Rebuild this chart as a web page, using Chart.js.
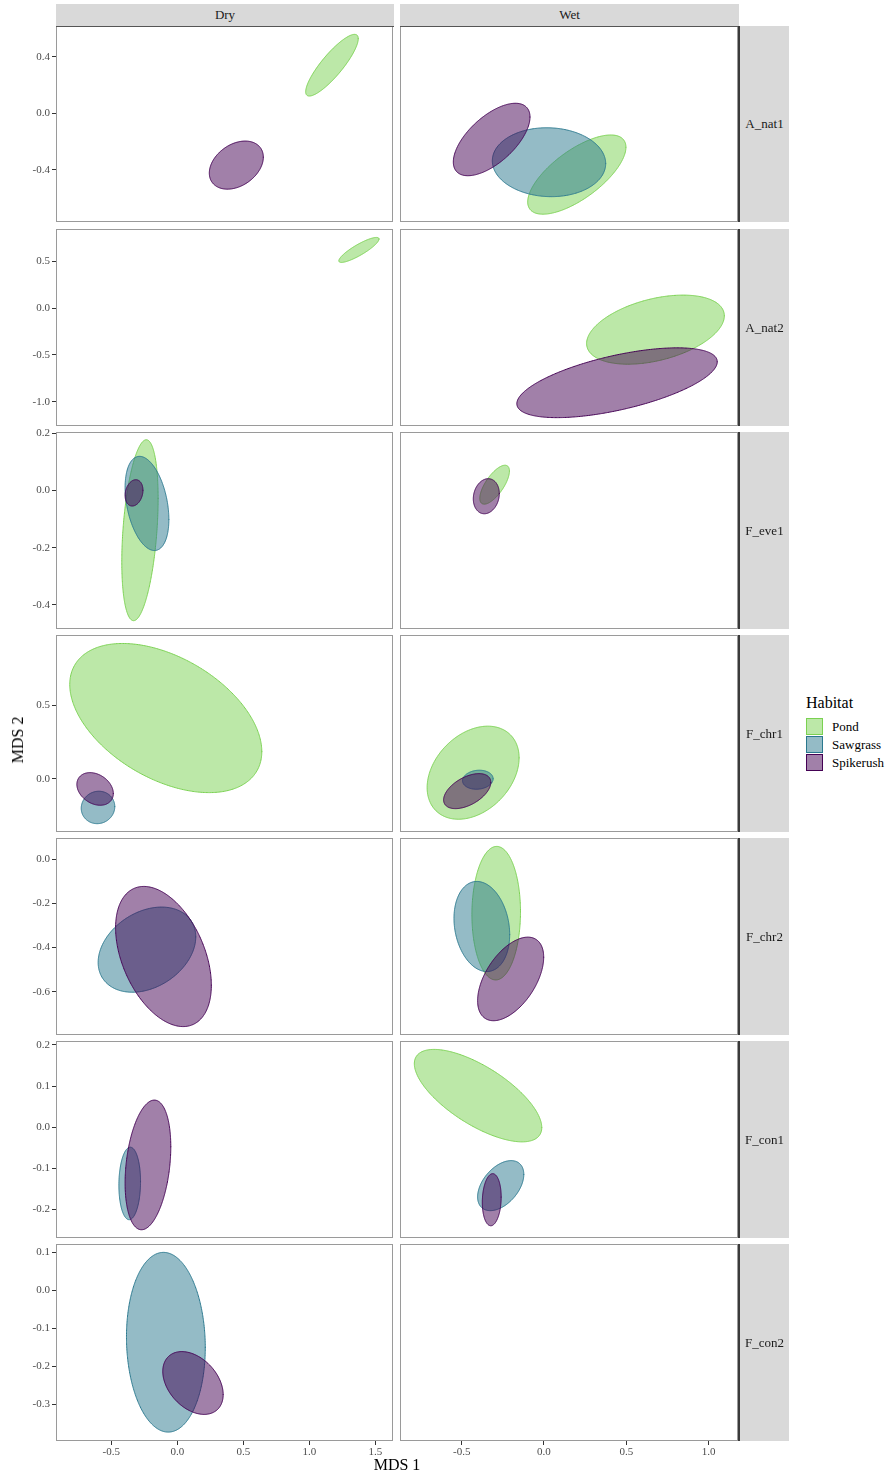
<!DOCTYPE html>
<html>
<head>
<meta charset="utf-8">
<title>Habitat ellipses by species and season</title>
<script src="https://cdn.jsdelivr.net/npm/chart.js@4/dist/chart.umd.min.js"></script>
<style>
  html, body { margin: 0; padding: 0; background: #ffffff; }
  body { position: relative; width: 890px; height: 1477px; overflow: hidden;
         font-family: 'Liberation Serif', 'Times New Roman', serif; }
  .box { position: absolute; }
  .stripTop { position: absolute; background: #d9d9d9; color: #1a1a1a; font-size: 13px;
              text-align: center; box-sizing: border-box; border-bottom: 1px solid #555555;
              display: flex; align-items: center; justify-content: center; z-index: 5; }
  .stripRight { position: absolute; background: #d9d9d9; color: #1a1a1a; font-size: 13px;
                box-sizing: border-box; border-left: 2px solid #3a3a3a;
                display: flex; align-items: center; justify-content: center; z-index: 5; }
  .axisTitle { position: absolute; color: #000000; font-size: 16px; white-space: nowrap; z-index: 5; }
  .legendTitle { position: absolute; font-size: 16px; color: #000000; z-index: 5; }
  .legendKey { position: absolute; width: 17px; height: 17px; box-sizing: border-box; z-index: 5; }
  .legendLabel { position: absolute; font-size: 13px; color: #000000; line-height: 17px; z-index: 5; }
</style>
</head>
<body>
<script>
// ---- categories ----
const seasons = ['Dry', 'Wet'];
const species = ['A_nat1', 'A_nat2', 'F_eve1', 'F_chr1', 'F_chr2', 'F_con1', 'F_con2'];
const habitats = ['Pond', 'Sawgrass', 'Spikerush'];

// ---- scale ranges and tick labels (MDS units) ----
const xRangeDry = [-0.918, 1.633];
const xRangeWet = [-0.875, 1.179];
const xTicksDry = [-0.5, 0.0, 0.5, 1.0, 1.5];
const xTicksWet = [-0.5, 0.0, 0.5, 1.0];
const yRangeBySpecies = [
  [-0.768, 0.617],
  [-1.26, 0.844],
  [-0.484, 0.204],
  [-0.36, 0.976],
  [-0.796, 0.095],
  [-0.269, 0.2095],
  [-0.397, 0.1216]
];
const yTicksBySpecies = [
  [-0.4, 0.0, 0.4],
  [-1.0, -0.5, 0.0, 0.5],
  [-0.4, -0.2, 0.0, 0.2],
  [0.0, 0.5],
  [-0.6, -0.4, -0.2, 0.0],
  [-0.2, -0.1, 0.0, 0.1, 0.2],
  [-0.3, -0.2, -0.1, 0.0, 0.1]
];

// ---- ellipse series: [species, season, centre MDS1, centre MDS2, half-range MDS1, half-range MDS2, correlation] ----
const pond = [
  ['A_nat1', 'Dry', 1.171, 0.340, 0.199, 0.218, 0.86],
  ['A_nat1', 'Wet', 0.1995, -0.433, 0.2985, 0.280, 0.69],
  ['A_nat2', 'Dry', 1.375, 0.6205, 0.152, 0.1335, 0.87],
  ['A_nat2', 'Wet', 0.6775, -0.231, 0.4185, 0.369, 0.40],
  ['F_eve1', 'Dry', -0.2825, -0.139, 0.1375, 0.316, 0.35],
  ['F_eve1', 'Wet', -0.300, 0.020, 0.090, 0.068, 0.70],
  ['F_chr1', 'Dry', -0.087, 0.4128, 0.727, 0.5058, -0.45],
  ['F_chr1', 'Wet', -0.4307, 0.0421, 0.2795, 0.3157, 0.32],
  ['F_chr2', 'Wet', -0.2904, -0.245, 0.1476, 0.302, 0.02],
  ['F_con1', 'Wet', -0.4007, 0.0768, 0.3873, 0.1123, -0.69]
];
const sawgrass = [
  ['A_nat1', 'Wet', 0.0305, -0.3455, 0.3445, 0.2435, -0.04],
  ['F_eve1', 'Dry', -0.2293, -0.0455, 0.1657, 0.1645, -0.34],
  ['F_chr1', 'Dry', -0.600, -0.1935, 0.127, 0.110, 0.05],
  ['F_chr1', 'Wet', -0.402, -0.0055, 0.093, 0.0645, 0.10],
  ['F_chr2', 'Dry', -0.2295, -0.410, 0.3695, 0.1926, 0.30],
  ['F_chr2', 'Wet', -0.3777, -0.3053, 0.1693, 0.2038, -0.18],
  ['F_con1', 'Dry', -0.360, -0.1365, 0.082, 0.0881, 0.05],
  ['F_con1', 'Wet', -0.263, -0.1418, 0.1404, 0.0608, 0.45],
  ['F_con2', 'Dry', -0.0863, -0.137, 0.2983, 0.2366, -0.06]
];
const spikerush = [
  ['A_nat1', 'Dry', 0.447, -0.366, 0.2045, 0.170, 0.33],
  ['A_nat1', 'Wet', -0.318, -0.185, 0.233, 0.256, 0.62],
  ['A_nat2', 'Wet', 0.444, -0.798, 0.609, 0.3728, 0.60],
  ['F_eve1', 'Dry', -0.3274, -0.0086, 0.0677, 0.046, 0.20],
  ['F_eve1', 'Wet', -0.3506, -0.0203, 0.079, 0.0613, 0.15],
  ['F_chr1', 'Dry', -0.622, -0.068, 0.138, 0.1107, -0.28],
  ['F_chr1', 'Wet', -0.4665, -0.0828, 0.1435, 0.1188, 0.50],
  ['F_chr2', 'Dry', -0.1045, -0.441, 0.3625, 0.317, -0.41],
  ['F_chr2', 'Wet', -0.2026, -0.5424, 0.2008, 0.189, 0.52],
  ['F_con1', 'Dry', -0.222, -0.0915, 0.173, 0.1575, 0.28],
  ['F_con1', 'Wet', -0.3175, -0.176, 0.0574, 0.0633, 0.10],
  ['F_con2', 'Dry', 0.1189, -0.2443, 0.2287, 0.0827, -0.37]
];
const habitatSeries = [pond, sawgrass, spikerush];

// ---- styling ----
const habitatLine = ['#7AD151', '#2A788E', '#440154'];
const habitatFill = ['rgba(122,209,81,0.5)', 'rgba(42,120,142,0.5)', 'rgba(68,1,84,0.5)'];
const serif = "'Liberation Serif', 'Times New Roman', serif";

// ---- facet layout (page pixels) ----
const panelCols = [{ l: 56, r: 393 }, { l: 400, r: 738 }];
const panelRows = [[26, 222], [229, 426], [432, 629], [635, 832], [838, 1035], [1041, 1238], [1244, 1441]];
const Y_AXIS_W = 56, X_AXIS_H = 22, PAD = 10;

// closed outline of a bivariate-normal style ellipse
function ellipseOutline(cx, cy, sx, sy, r) {
  const phase = Math.acos(r);
  const pts = [];
  const n = 120;
  for (let i = 0; i <= n; i++) {
    const t = (i / n) * 2 * Math.PI;
    pts.push({ x: cx + sx * Math.cos(t), y: cy + sy * Math.cos(t + phase) });
  }
  return pts;
}

// grey border round each panel
const panelFrame = {
  id: 'panelFrame',
  afterDraw(chart) {
    const a = chart.chartArea, ctx = chart.ctx;
    ctx.save();
    ctx.strokeStyle = '#9a9a9a';
    ctx.lineWidth = 1;
    ctx.strokeRect(a.left + 0.5, a.top + 0.5, a.right - a.left - 1, a.bottom - a.top - 1);
    ctx.restore();
  }
};

function el(cls, left, top, width, height, text) {
  const d = document.createElement('div');
  d.className = cls;
  d.style.left = left + 'px';
  d.style.top = top + 'px';
  if (width != null) d.style.width = width + 'px';
  if (height != null) d.style.height = height + 'px';
  if (text != null) d.textContent = text;
  document.body.appendChild(d);
  return d;
}

function buildPanel(rowIdx, colIdx) {
  const sp = species[rowIdx], season = seasons[colIdx];
  const col = panelCols[colIdx];
  const [top, bottom] = panelRows[rowIdx];
  const isLeft = colIdx === 0, isBottom = rowIdx === species.length - 1;

  const padL = isLeft ? 0 : PAD;
  const padB = isBottom ? 0 : PAD;
  const left = isLeft ? col.l - Y_AXIS_W : col.l - PAD;
  const width = (col.r - col.l) + (isLeft ? Y_AXIS_W : PAD) + PAD;
  const height = (bottom - top) + PAD + (isBottom ? X_AXIS_H : PAD);

  const wrap = el('box', left, top - PAD, width, height);
  const canvas = document.createElement('canvas');
  canvas.width = width; canvas.height = height;
  canvas.style.width = width + 'px'; canvas.style.height = height + 'px';
  wrap.appendChild(canvas);

  const datasets = [];
  habitats.forEach((h, hi) => {
    habitatSeries[hi].filter(e => e[0] === sp && e[1] === season).forEach(e => {
      datasets.push({
        label: h,
        data: ellipseOutline(e[2], e[3], e[4], e[5], e[6]),
        showLine: true,
        fill: 'shape',
        backgroundColor: habitatFill[hi],
        borderColor: habitatLine[hi],
        borderWidth: 1,
        borderCapStyle: 'round',
        borderJoinStyle: 'round',
        pointRadius: 0,
        pointHoverRadius: 0,
        // a small tension keeps the full path (no per-pixel column shortcut)
        tension: 0.05,
        order: habitats.length - hi
      });
    });
  });

  const xRange = colIdx === 0 ? xRangeDry : xRangeWet;
  const xTicks = colIdx === 0 ? xTicksDry : xTicksWet;
  const tickFont = { family: serif, size: 11 };

  const xScale = {
    type: 'linear',
    min: xRange[0], max: xRange[1],
    display: isBottom,
    grid: { drawOnChartArea: false, drawTicks: true, tickLength: 4, color: '#333333' },
    border: { display: false },
    afterBuildTicks: s => { s.ticks = xTicks.map(v => ({ value: v })); },
    ticks: { autoSkip: false, maxRotation: 0, padding: 1, color: '#4d4d4d', font: tickFont,
             callback: v => Number(v).toFixed(1) }
  };
  if (isBottom) xScale.afterFit = s => { s.height = X_AXIS_H; };

  const yScale = {
    type: 'linear',
    min: yRangeBySpecies[rowIdx][0], max: yRangeBySpecies[rowIdx][1],
    display: isLeft,
    grid: { drawOnChartArea: false, drawTicks: true, tickLength: 4, color: '#333333' },
    border: { display: false },
    afterBuildTicks: s => { s.ticks = yTicksBySpecies[rowIdx].map(v => ({ value: v })); },
    ticks: { autoSkip: false, padding: 2, color: '#4d4d4d', font: tickFont,
             callback: v => Number(v).toFixed(1) }
  };
  if (isLeft) yScale.afterFit = s => { s.width = Y_AXIS_W; };

  new Chart(canvas, {
    type: 'scatter',
    data: { datasets },
    options: {
      responsive: false,
      animation: false,
      devicePixelRatio: 1,
      events: [],
      layout: { autoPadding: false, padding: { top: PAD, right: PAD, bottom: padB, left: padL } },
      plugins: { legend: { display: false }, tooltip: { enabled: false } },
      scales: { x: xScale, y: yScale }
    },
    plugins: [panelFrame]
  });
}

for (let r = 0; r < species.length; r++) {
  for (let c = 0; c < seasons.length; c++) buildPanel(r, c);
}

// facet strips
seasons.forEach((s, c) => {
  const col = panelCols[c];
  el('stripTop', col.l, 4, col.r - col.l + 1, 23, s);
});
species.forEach((s, r) => {
  const [top, bottom] = panelRows[r];
  el('stripRight', 738, top, 51, bottom - top, s);
});

// axis titles
const xt = el('axisTitle', 0, 1456, null, null, 'MDS 1');
xt.style.left = '397px';
xt.style.transform = 'translateX(-50%)';
const yt = el('axisTitle', 0, 0, null, null, 'MDS 2');
yt.style.left = '18px';
yt.style.top = '740px';
yt.style.transform = 'translate(-50%, -50%) rotate(-90deg)';

// legend
el('legendTitle', 806, 694, null, null, 'Habitat');
habitats.forEach((h, i) => {
  const k = el('legendKey', 806, 718 + i * 18, null, null, null);
  k.style.background = habitatFill[i];
  k.style.border = '1px solid ' + habitatLine[i];
  el('legendLabel', 832, 718 + i * 18, null, null, h);
});
</script>
</body>
</html>
